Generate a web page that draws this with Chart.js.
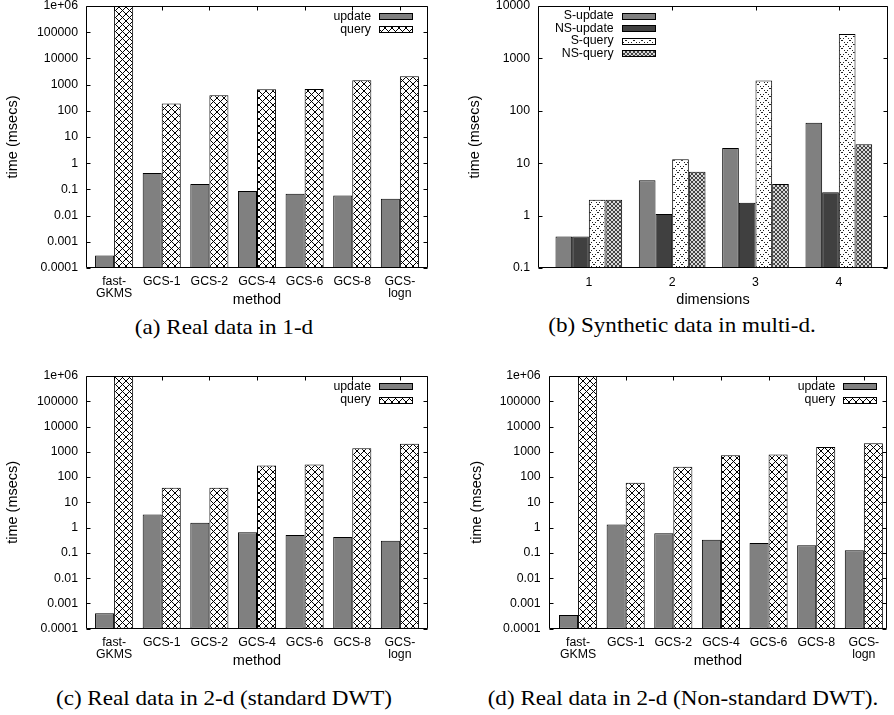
<!DOCTYPE html>
<html><head><meta charset="utf-8">
<script src="https://cdn.jsdelivr.net/npm/chart.js@4.4.1/dist/chart.umd.min.js"></script>
<style>
html,body{margin:0;padding:0;background:#fff}
body{width:894px;height:715px;position:relative;overflow:hidden}
.box{position:absolute}
.cap{position:absolute;font-family:"Liberation Serif","Times New Roman",serif;font-size:21px;color:#000;white-space:nowrap;transform:translate(-50%,-50%) scaleX(1.1);line-height:1}
</style></head><body>
<div class="box" style="left:0;top:0;width:440px;height:310px"><canvas id="ca"></canvas></div>
<div class="box" style="left:450px;top:0;width:444px;height:310px"><canvas id="cb"></canvas></div>
<div class="box" style="left:0;top:360px;width:440px;height:312px"><canvas id="cc"></canvas></div>
<div class="box" style="left:450px;top:360px;width:444px;height:312px"><canvas id="cd"></canvas></div>
<div class="cap" style="left:224px;top:327px">(a) Real data in 1-d</div>
<div class="cap" style="left:682px;top:325px">(b) Synthetic data in multi-d.</div>
<div class="cap" style="left:223.5px;top:698px">(c) Real data in 2-d (standard DWT)</div>
<div class="cap" style="left:683px;top:698px">(d) Real data in 2-d (Non-standard DWT).</div>
<script>
// ---------- data ----------
const methods = ['fast-GKMS','GCS-1','GCS-2','GCS-4','GCS-6','GCS-8','GCS-logn'];
const methodTickLabels = [['fast-','GKMS'],['GCS-1'],['GCS-2'],['GCS-4'],['GCS-6'],['GCS-8'],['GCS-','logn']];
const realUpdate1d = [0.0003, 0.42, 0.16, 0.086, 0.068, 0.059, 0.044];
const realQuery1d  = [1e6, 190, 390, 665, 680, 1480, 2090];
const dims = [1, 2, 3, 4];
const dimTickLabels = ['1','2','3','4'];
const synSUpdate  = [0.4, 4.75, 19.4, 59];
const synNSUpdate = [0.4, 1.07, 1.76, 2.8];
const synSQuery   = [2.0, 11.9, 378, 2925];
const synNSQuery  = [2.0, 6.86, 4.0, 23];
const stdUpdate2d = [0.00041, 3.3, 1.55, 0.66, 0.51, 0.43, 0.30];
const stdQuery2d  = [1e6, 38, 38, 288, 314, 1390, 2090];
const nsUpdate2d  = [0.00035, 1.33, 0.60, 0.33, 0.245, 0.20, 0.126];
const nsQuery2d   = [1e6, 59, 256, 733, 777, 1540, 2190];
const yTicksReal = [0.0001, 0.001, 0.01, 0.1, 1, 10, 100, 1000, 10000, 100000, 1000000];
const yTickLabelsReal = ['0.0001','0.001','0.01','0.1','1','10','100','1000','10000','100000','1e+06'];
const yTicksSyn = [0.1, 1, 10, 100, 1000, 10000];
const yTickLabelsSyn = ['0.1','1','10','100','1000','10000'];

// ---------- styles ----------
const SANS = '"Liberation Sans", Arial, Helvetica, sans-serif';
Chart.defaults.font.family = SANS;
Chart.defaults.color = '#000';
Chart.defaults.animation = false;

function makePattern(n, bg, fg, pixels) {
  const c = document.createElement('canvas');
  c.width = n; c.height = n;
  const g = c.getContext('2d');
  g.fillStyle = bg; g.fillRect(0, 0, n, n);
  g.fillStyle = fg;
  pixels.forEach(p => g.fillRect(p[0], p[1], 1, 1));
  return g.createPattern(c, 'repeat');
}
function xPixels(n, step) {
  const out = [];
  for (let i = 0; i < n; i += (step || 1)) { out.push([i, i]); out.push([n - 1 - i, i]); }
  return out;
}
const queryPat = makePattern(7, '#ffffff', '#000000', xPixels(7));
const sQueryPat = makePattern(8, '#ffffff', '#222222', xPixels(8, 2));
const nsQueryPat = makePattern(4, '#d8d8d8', '#444444', xPixels(4));
const GRAY = '#808080';
const DARK = '#404040';

const framePlugin = {
  id: 'frame',
  afterDatasetsDraw(chart, args, o) {
    const {ctx, chartArea: a, scales: {x, y}} = chart;
    ctx.save();
    ctx.strokeStyle = '#000'; ctx.lineWidth = 1;
    const L = Math.round(a.left) + 0.5, R = Math.round(a.right) - 0.5;
    const T = Math.round(a.top) + 0.5, B = Math.round(a.bottom) - 0.5;
    ctx.beginPath();
    ctx.rect(L, T, R - L, B - T);
    y.ticks.forEach(t => {
      const py = Math.round(y.getPixelForValue(t.value)) + 0.5;
      ctx.moveTo(L, py); ctx.lineTo(L + 4, py);
      ctx.moveTo(R, py); ctx.lineTo(R - 4, py);
    });
    x.ticks.forEach(t => {
      const px = Math.round(x.getPixelForValue(t.value)) + 0.5;
      ctx.moveTo(px, T); ctx.lineTo(px, T + 4);
    });
    ctx.stroke();
    // legend (text left of sample, gnuplot style)
    ctx.font = '12.3px ' + SANS;
    ctx.textAlign = 'right'; ctx.textBaseline = 'middle';
    chart.data.datasets.forEach((ds, i) => {
      const cy = o.top + i * o.rowH;
      ctx.fillStyle = '#000';
      ctx.fillText(ds.label, o.right - o.boxW - o.gap, cy);
      ctx.fillStyle = ds.backgroundColor;
      const bx = Math.round(o.right - o.boxW), by = Math.round(cy - o.boxH / 2);
      ctx.fillRect(bx, by, o.boxW, o.boxH);
      ctx.strokeStyle = '#000';
      ctx.strokeRect(bx + 0.5, by + 0.5, o.boxW - 1, o.boxH - 1);
    });
    ctx.restore();
  }
};

function build(id, c) {
  const datasets = c.series.map(s => ({
    label: s.label,
    data: c.xs.map((xv, i) => ({x: xv, y: s.values[i]})),
    backgroundColor: s.fill,
    borderColor: '#000',
    borderWidth: 1,
    borderSkipped: false,
    categoryPercentage: 0.8,
    barPercentage: 1.0
  }));
  return new Chart(document.getElementById(id), {
    type: 'bar',
    data: {datasets},
    plugins: [framePlugin],
    options: {
      responsive: true, maintainAspectRatio: false,
      layout: {padding: c.pad},
      plugins: {legend: {display: false}, tooltip: {enabled: false}, frame: c.legend},
      scales: {
        x: {
          type: 'linear', min: c.xmin, max: c.xmax, offset: false,
          grid: {display: false, drawTicks: false, offset: false}, border: {display: false},
          afterBuildTicks: s => { s.ticks = c.xs.map(v => ({value: v})); },
          afterFit: s => { s.height = c.xh; s.paddingLeft = 0; s.paddingRight = 0; },
          ticks: {
            autoSkip: false, maxRotation: 0, padding: c.xtp,
            font: {size: 12.3, lineHeight: 0.95},
            callback: (v, i) => c.xlabels[i]
          },
          title: {display: true, text: c.xtitle, font: {size: 14.5}, padding: {top: 0, bottom: c.xtitlePad}}
        },
        y: {
          type: 'logarithmic', min: c.yticks[0], max: c.yticks[c.yticks.length - 1],
          grid: {display: false, drawTicks: false}, border: {display: false},
          afterBuildTicks: s => { s.ticks = c.yticks.map(v => ({value: v})); },
          afterFit: s => { s.width = c.yw; s.paddingTop = 0; s.paddingBottom = 0; },
          ticks: {padding: c.ytp, font: {size: 12.3, lineHeight: 1}, callback: (v, i) => c.ylabels[i]},
          title: {display: true, text: 'time (msecs)', font: {size: 14.5}, padding: {top: 0, bottom: 0}}
        }
      }
    }
  });
}

const idx = methods.map((m, i) => i);

build('ca', {
  xs: idx, xlabels: methodTickLabels, xmin: -0.59, xmax: 6.59,
  yticks: yTicksReal, ylabels: yTickLabelsReal,
  pad: {left: 4, top: 6, right: 12, bottom: 0}, yw: 82, xh: 42, xtp: 8, ytp: 8,
  xtitle: 'method', xtitlePad: 1.3,
  legend: {right: 413, top: 16.7, rowH: 12.8, boxW: 34, boxH: 7, gap: 8},
  series: [
    {label: 'update', values: realUpdate1d, fill: GRAY},
    {label: 'query', values: realQuery1d, fill: queryPat}
  ]
});

build('cb', {
  xs: dims, xlabels: dimTickLabels, xmin: 0.39, xmax: 4.59,
  yticks: yTicksSyn, ylabels: yTickLabelsSyn,
  pad: {left: 16.3, top: 6, right: 6, bottom: 0}, yw: 71.7, xh: 42, xtp: 9.2, ytp: 8,
  xtitle: 'dimensions', xtitlePad: 1.3,
  legend: {right: 205.7, top: 16, rowH: 12.5, boxW: 34, boxH: 7, gap: 8},
  series: [
    {label: 'S-update', values: synSUpdate, fill: GRAY},
    {label: 'NS-update', values: synNSUpdate, fill: DARK},
    {label: 'S-query', values: synSQuery, fill: sQueryPat},
    {label: 'NS-query', values: synNSQuery, fill: nsQueryPat}
  ]
});

build('cc', {
  xs: idx, xlabels: methodTickLabels, xmin: -0.59, xmax: 6.59,
  yticks: yTicksReal, ylabels: yTickLabelsReal,
  pad: {left: 4, top: 16, right: 12, bottom: 0}, yw: 82, xh: 43.3, xtp: 8.4, ytp: 8,
  xtitle: 'method', xtitlePad: 2.6,
  legend: {right: 413, top: 26.7, rowH: 13.3, boxW: 34, boxH: 7, gap: 8},
  series: [
    {label: 'update', values: stdUpdate2d, fill: GRAY},
    {label: 'query', values: stdQuery2d, fill: queryPat}
  ]
});

build('cd', {
  xs: idx, xlabels: methodTickLabels, xmin: -0.61, xmax: 6.48,
  yticks: yTicksReal, ylabels: yTickLabelsReal,
  pad: {left: 18, top: 16, right: 7.3, bottom: 0}, yw: 81, xh: 43.3, xtp: 8.4, ytp: 8.3,
  xtitle: 'method', xtitlePad: 2.6,
  legend: {right: 427.3, top: 26.7, rowH: 13.3, boxW: 34, boxH: 7, gap: 8},
  series: [
    {label: 'update', values: nsUpdate2d, fill: GRAY},
    {label: 'query', values: nsQuery2d, fill: queryPat}
  ]
});
</script>
</body></html>
